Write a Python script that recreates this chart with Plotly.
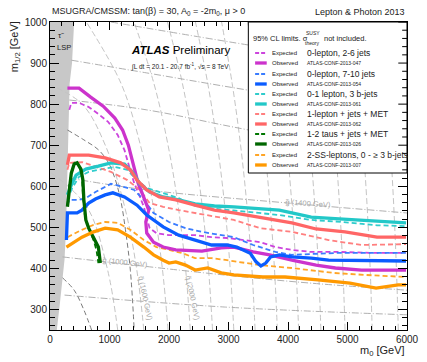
import plotly.graph_objects as go

W, H = 427, 362
ML, MR, MT, MB = 50, 8, 22, 32
PW, PH = W - ML - MR, H - MT - MB


def px(xp):
    return (xp - ML) / PW


def py(yp):
    return (H - MB - yp) / PH


FONT = "Liberation Sans, Arial, Helvetica, sans-serif"

# ---------------- data (m0, m1/2 in GeV) ----------------
lsp_m0 = [0, 114, 163, 244, 270, 293, 300, 330, 370, 406, 0]
lsp_m12 = [250, 250, 310, 421, 500, 660, 714, 850, 900, 1000, 1000]

# 0-lepton, 2-6 jets
zl26_obs_m0 = [293, 488, 683, 894, 1089, 1220, 1317, 1398, 1480, 1593, 1659, 1610, 1626, 1740, 1902,
               2114, 2553, 2878, 3089, 3415, 3691, 4065, 4472, 4797, 5236, 5984]
zl26_obs_m12 = [839, 839, 817, 795, 766, 737, 700, 652, 608, 567, 542, 513, 486, 464, 452,
                445, 442, 450, 452, 440, 433, 420, 408, 401, 396, 396]
zl26_exp_m0 = [325, 358, 488, 650, 813, 976, 1138, 1252, 1333, 1415, 1512, 1577, 1626, 1675, 1789,
               2000, 2439, 2715, 2976, 3252, 3528, 3789, 4065, 4390, 4878, 5366, 5984]
zl26_exp_m12 = [786, 803, 803, 793, 776, 757, 725, 688, 647, 608, 574, 550, 523, 498, 486,
                481, 481, 476, 474, 469, 464, 452, 445, 440, 440, 438, 438]

# 0-lepton, 7-10 jets
zl710_obs_m0 = [276, 293, 455, 537, 650, 764, 927, 1057, 1252, 1463, 1626, 1902, 2163, 2439, 2715,
                2976, 3138, 3366, 3464, 3545, 3626, 3707, 3854, 4065, 4390, 4683, 5236, 5984]
zl710_obs_m12 = [469, 535, 535, 542, 559, 569, 579, 584, 574, 554, 530, 501, 481, 469, 457,
                 457, 452, 437, 416, 406, 413, 428, 433, 428, 425, 420, 420, 418]
zl710_exp_m0 = [293, 325, 488, 602, 764, 1024, 1252, 1415, 1577, 1740, 2000, 2276, 2553, 2878, 3089,
                3415, 3789, 4065, 4390, 4878, 5366, 5984]
zl710_exp_m12 = [554, 567, 567, 571, 586, 606, 598, 591, 567, 535, 513, 498, 489, 481, 476,
                 457, 440, 433, 435, 438, 438, 438]

# 0-1 lepton, 3 b-jets
b3_obs_m0 = [293, 358, 439, 602, 813, 1024, 1252, 1382, 1512, 1675, 1902, 2163, 2439, 2764, 3089,
             3528, 3854, 4065, 4390, 4927, 5496, 5984]
b3_obs_m12 = [579, 603, 627, 642, 649, 657, 654, 635, 606, 586, 574, 567, 557, 552, 550,
              545, 542, 535, 525, 520, 515, 511]
b3_exp_m0 = [293, 374, 488, 650, 813, 1089, 1301, 1463, 1626, 1902, 2163, 2439, 2764, 3089, 3528,
             3854, 4390, 4927, 5496, 5984]
b3_exp_m12 = [567, 596, 623, 635, 640, 647, 640, 615, 596, 584, 571, 552, 545, 541, 535,
              530, 518, 513, 505, 503]

# 1-lepton + jets + MET
l1_obs_m0 = [293, 325, 650, 927, 1187, 1350, 1463, 1626, 1837, 2114, 2439, 2764, 3089, 3528, 4065,
             4472, 4959, 5496, 5984]
l1_obs_m12 = [652, 676, 676, 669, 657, 640, 615, 591, 574, 567, 554, 542, 535, 525, 511,
              496, 489, 476, 476]
l1_exp_m0 = [293, 325, 537, 764, 1024, 1301, 1512, 1675, 1902, 2163, 2439, 2764, 3089, 3528, 4065,
             4683, 5236, 5984]
l1_exp_m12 = [640, 657, 659, 647, 635, 615, 591, 559, 550, 542, 535, 525, 518, 498, 489,
              469, 457, 459]

# 1-2 taus + jets + MET
tau_obs_m0 = [293, 325, 358, 406, 455, 520, 553, 569, 602, 650, 732, 813, 846]
tau_obs_m12 = [550, 598, 632, 654, 657, 642, 615, 567, 518, 498, 474, 452, 413]
tau_exp_m0 = [293, 325, 374, 423, 488, 537, 553, 585, 650, 732, 781, 813]
tau_exp_m12 = [554, 603, 640, 657, 649, 627, 579, 530, 498, 469, 445, 413]

# 2-SS-leptons, 0 - >=3 b-jets
ss_obs_m0 = [276, 537, 732, 927, 1138, 1350, 1577, 1740, 1902, 2000, 2114, 2276, 2439, 2650, 2878,
             3089, 3577, 3951, 4504, 5041, 5480, 5854, 5984]
ss_obs_m12 = [452, 476, 489, 498, 494, 476, 452, 433, 420, 413, 416, 408, 396, 401, 389,
              384, 379, 379, 372, 364, 352, 360, 360]
ss_exp_m0 = [293, 537, 732, 927, 1138, 1350, 1577, 1789, 2000, 2228, 2439, 2715, 2976, 3528, 4065,
             4764, 5317, 5854, 5984]
ss_exp_m12 = [476, 494, 506, 513, 511, 494, 469, 452, 445, 437, 425, 425, 420, 408, 401,
              389, 384, 379, 379]

# gluino iso-mass lines (dash-dot)
gl_lines = [
    ([244, 2927, 6000], [335, 306, 287]),
    ([211, 2927, 4390, 6000], [428, 384, 364, 347]),
    ([325, 1626, 4016, 6000], [620, 591, 559, 535]),
    ([325, 1626, 3089, 6000], [810, 786, 744, 664]),
    ([358, 1626, 3333, 6000], [907, 876, 834, 774]),
    ([1024, 3333, 6000], [1000, 944, 883]),
]
# squark iso-mass lines (dashed)
sq_m12 = [250, 400, 550, 700, 850, 1000]
sq_lines = [
    ([1138, 962, 619, 0], [250, 400, 550, 635]),
    ([1577, 1455, 1255, 929, 541, 0], [250, 400, 550, 700, 800, 847]),
    ([1984, 1888, 1739, 1520, 1195, 611], sq_m12),
    ([2358, 2278, 2156, 1984, 1747, 1413], sq_m12),
    ([2732, 2663, 2560, 2416, 2226, 1975], sq_m12),
    ([3089, 3028, 2938, 2814, 2652, 2445], sq_m12),
    ([3447, 3393, 3312, 3203, 3062, 2884], sq_m12),
    ([3821, 3772, 3700, 3602, 3477, 3322], sq_m12),
    ([4179, 4134, 4068, 3980, 3866, 3725], sq_m12),
    ([4553, 4512, 4452, 4371, 4267, 4138], sq_m12),
    ([4959, 4922, 4868, 4795, 4703, 4586], sq_m12),
    ([5415, 5381, 5330, 5264, 5181, 5078], sq_m12),
    ([5854, 5822, 5778, 5721, 5650, 5562], sq_m12),
]
dark_lines = [
    ([211, 406, 569, 699], [377, 347, 299, 250]),
    ([293, 569, 813, 976, 1089, 1187, 1268, 1350, 1415], [737, 713, 689, 659, 620, 567, 494, 396, 250]),
]

analyses = ["0-lepton, 2-6 jets", "0-lepton, 7-10 jets", "0-1 lepton, 3 b-jets",
            "1-lepton + jets + MET", "1-2 taus + jets + MET", "2-SS-leptons, 0 - \u2265 3 b-jets"]
confs = ["ATLAS-CONF-2013-047", "ATLAS-CONF-2013-054", "ATLAS-CONF-2013-061",
         "ATLAS-CONF-2013-062", "ATLAS-CONF-2013-026", "ATLAS-CONF-2013-007"]
obs_colors = ["#cc33cc", "#0a5cff", "#22c8c8", "#ff6666", "#006600", "#ff9900"]
exp_colors = ["#cc44dd", "#3a7cff", "#30cccc", "#ff7f7f", "#007700", "#ffa526"]

curves = [
    (zl26_exp_m0, zl26_exp_m12, zl26_obs_m0, zl26_obs_m12),
    (zl710_exp_m0, zl710_exp_m12, zl710_obs_m0, zl710_obs_m12),
    (b3_exp_m0, b3_exp_m12, b3_obs_m0, b3_obs_m12),
    (l1_exp_m0, l1_exp_m12, l1_obs_m0, l1_obs_m12),
    (tau_exp_m0, tau_exp_m12, tau_obs_m0, tau_obs_m12),
    (ss_exp_m0, ss_exp_m12, ss_obs_m0, ss_obs_m12),
]

fig = go.Figure()

fig.add_trace(go.Scatter(x=lsp_m0, y=lsp_m12, fill="toself", fillcolor="#c8c8c8",
                         line=dict(width=0, color="#c8c8c8"), mode="lines", hoverinfo="skip"))

for xs, ys in sq_lines:
    fig.add_trace(go.Scatter(x=xs, y=ys, mode="lines", line_shape="spline",
                             line=dict(color="#c4c4c4", width=1, dash="6px,3px")))
for xs, ys in gl_lines:
    fig.add_trace(go.Scatter(x=xs, y=ys, mode="lines", line_shape="spline",
                             line=dict(color="#b0b0b0", width=1, dash="7px,2px,1px,2px")))
for xs, ys in dark_lines:
    fig.add_trace(go.Scatter(x=xs, y=ys, mode="lines", line_shape="spline",
                             line=dict(color="#7a7a7a", width=1, dash="5px,3px")))

for i, (ex, ey, ox, oy) in enumerate(curves):
    fig.add_trace(go.Scatter(x=ex, y=ey, mode="lines",
                             line=dict(color=exp_colors[i], width=1.8, dash="5px,3px")))
for i, (ex, ey, ox, oy) in enumerate(curves):
    fig.add_trace(go.Scatter(x=ox, y=oy, mode="lines",
                             line=dict(color=obs_colors[i], width=3.3)))

shapes = []
annotations = []

# legend box
shapes.append(dict(type="rect", xref="paper", yref="paper", x0=px(255), x1=1.0, y0=py(173), y1=1.0,
                   fillcolor="white", line=dict(color="black", width=1), layer="above"))
grp_y = [53, 74, 94, 114, 134, 155]
for i, gy in enumerate(grp_y):
    shapes.append(dict(type="line", xref="paper", yref="paper", x0=px(262), x1=px(274), y0=py(gy), y1=py(gy),
                       line=dict(color=exp_colors[i], width=1.8, dash="4px,2px"), layer="above"))
    shapes.append(dict(type="line", xref="paper", yref="paper", x0=px(262), x1=px(274), y0=py(gy + 10),
                       y1=py(gy + 10), line=dict(color=obs_colors[i], width=3.3), layer="above"))
    annotations.append(dict(x=px(277), y=py(gy), text="Expected", font=dict(size=6, color="#222")))
    annotations.append(dict(x=px(277), y=py(gy + 10), text="Observed", font=dict(size=6, color="#222")))
    annotations.append(dict(x=px(314), y=py(gy), text=analyses[i], font=dict(size=8.5, color="#222")))
    annotations.append(dict(x=px(314), y=py(gy + 10), text=confs[i], font=dict(size=5, color="#222")))

# right-side axis ticks visible over the legend box
for i, yv in enumerate(range(640, 1001, 20)):
    ln = 9 if yv % 100 == 0 else 5
    shapes.append(dict(type="line", xref="paper", yref="y", x0=1.0, x1=1.0 - ln / PW, y0=yv, y1=yv,
                       line=dict(color="black", width=1), layer="above"))

annotations += [
    dict(x=px(258), y=py(38), text="95% CL limits. \u03c3", font=dict(size=7.5, color="#222")),
    dict(x=px(313), y=py(33), text="SUSY", font=dict(size=5, color="#222")),
    dict(x=px(312), y=py(43), text="theory", font=dict(size=5, color="#222")),
    dict(x=px(331), y=py(38), text="not included.", font=dict(size=7.5, color="#222")),
    dict(x=px(50), y=py(12), text="MSUGRA/CMSSM: tan(\u03b2) = 30, A<sub>0</sub> = -2m<sub>0</sub>, \u03bc > 0",
         font=dict(size=9, color="#222")),
    dict(x=1.0, y=py(12), xanchor="right", text="Lepton & Photon 2013", font=dict(size=9, color="#222")),
    dict(x=px(14), y=py(47), xanchor="center", textangle=-90, text="m<sub>1/2</sub> [GeV]",
         font=dict(size=11, color="#222")),
    dict(x=1.0, y=py(351), xanchor="right", text="m<sub>0</sub> [GeV]", font=dict(size=11, color="#222")),
    dict(x=px(132), y=py(50), text="<b><i>ATLAS</i></b> Preliminary", font=dict(size=11.5, color="black")),
    dict(x=px(132), y=py(66), text="\u222bL dt = 20.1 - 20.7 fb<sup>-1</sup>, \u221as = 8 TeV",
         font=dict(size=6.5, color="#222")),
    dict(x=px(56), y=py(35), text="\u03c4\u0303", font=dict(size=8, color="#222")),
    dict(x=px(55), y=py(47), text="LSP", font=dict(size=7.5, color="#222")),
    dict(x=px(128), y=py(262), xanchor="center", textangle=6, text="g\u0303 (1000 GeV)",
         font=dict(size=7.5, color="#a8a8a8")),
    dict(x=px(317), y=py(203), xanchor="center", textangle=4, text="g\u0303 (1400 GeV)",
         font=dict(size=7.5, color="#a8a8a8")),
    dict(x=px(149), y=py(298), xanchor="center", textangle=78, text="q\u0303 (1600 GeV)",
         font=dict(size=7.5, color="#a8a8a8")),
    dict(x=px(198), y=py(298), xanchor="center", textangle=78, text="q\u0303 (2000 GeV)",
         font=dict(size=7.5, color="#a8a8a8")),
]
for a in annotations:
    a.setdefault("xref", "paper")
    a.setdefault("yref", "paper")
    a.setdefault("xanchor", "left")
    a.setdefault("yanchor", "middle")
    a["showarrow"] = False

axis_common = dict(showgrid=False, zeroline=False, showline=True, mirror="ticks", linecolor="black",
                   linewidth=1, ticks="inside", tickcolor="black", tickfont=dict(size=10, color="#222"),
                   ticklabeloverflow="allow")
fig.update_layout(
    width=W, height=H, margin=dict(l=ML, r=MR, t=MT, b=MB, pad=0),
    paper_bgcolor="white", plot_bgcolor="white", showlegend=False,
    font=dict(family=FONT),
    xaxis=dict(range=[0, 6000], dtick=1000, tick0=0, ticklen=8,
               minor=dict(ticks="inside", dtick=200, ticklen=4, tickcolor="black"), **axis_common),
    yaxis=dict(range=[250, 1000], dtick=100, tick0=0, ticklen=9,
               minor=dict(ticks="inside", dtick=20, ticklen=5, tickcolor="black"), **axis_common),
    shapes=shapes, annotations=annotations,
)

fig.write_html("out.html", config={"displayModeBar": False},
               post_script="document.body.style.margin='0px';document.body.style.overflow='hidden';")
